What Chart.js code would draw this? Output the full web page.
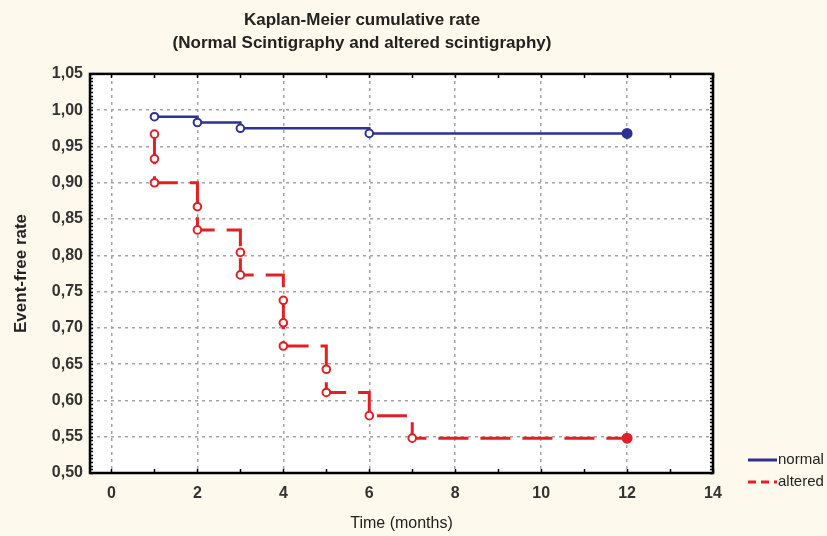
<!DOCTYPE html>
<html><head><meta charset="utf-8">
<script src="https://cdn.jsdelivr.net/npm/chart.js@4.4.1/dist/chart.umd.min.js"></script>
<style>html,body{margin:0;padding:0;background:#fdf9ed;}#wrap{width:827px;height:536px;position:relative;}</style>
</head><body><div id="wrap"><canvas id="c" width="827" height="536"></canvas></div>
<script>
const chartTitle = ['Kaplan-Meier cumulative rate', '(Normal Scintigraphy and altered scintigraphy)'];
const xAxisTitle = 'Time (months)';
const yAxisTitle = 'Event-free rate';
const seriesNames = ['normal', 'altered'];
const normalTimes = [1, 2, 3, 6, 12];
const normalRates = [0.991, 0.983, 0.975, 0.968, 0.968];
const alteredTimes = [1, 1, 1, 2, 2, 3, 3, 4, 4, 4, 5, 5, 6, 7, 12];
const alteredRates = [0.967, 0.933, 0.900, 0.867, 0.835, 0.804, 0.773, 0.738, 0.707, 0.675, 0.643, 0.611, 0.579, 0.548, 0.548];
const xTickValues = [0, 2, 4, 6, 8, 10, 12, 14];
const yTickValues = [0.50, 0.55, 0.60, 0.65, 0.70, 0.75, 0.80, 0.85, 0.90, 0.95, 1.00, 1.05];
const xRange = [-0.5, 14];
const yRange = [0.50, 1.05];

const BG = '#fdf9ed';
const BLUE = '#2e3192';
const RED = '#e31e24';

function toPoints(xs, ys) { return xs.map((x, i) => ({x: x, y: ys[i]})); }

const bgPlugin = {
  id: 'bg',
  beforeDraw(chart) {
    const {ctx, chartArea: a} = chart;
    ctx.save();
    ctx.fillStyle = BG;
    ctx.fillRect(0, 0, chart.width, chart.height);
    ctx.fillStyle = '#ffffff';
    ctx.fillRect(a.left, a.top, a.right - a.left, a.bottom - a.top);
    ctx.restore();
  }
};

const framePlugin = {
  id: 'frame',
  afterDraw(chart) {
    const {ctx, chartArea: a} = chart;
    const xs = chart.scales.x, ys = chart.scales.y;
    ctx.save();
    ctx.strokeStyle = '#000';
    ctx.lineWidth = 1.5;
    ctx.beginPath();
    for (let v = 0; v <= 14; v++) {
      const px = Math.round(xs.getPixelForValue(v)) + 0.5;
      ctx.moveTo(px, a.bottom); ctx.lineTo(px, a.bottom - 4);
      ctx.moveTo(px, a.top); ctx.lineTo(px, a.top + 4);
    }
    for (let k = 0; k <= 110; k++) {
      const v = yRange[0] + k * 0.005;
      const py = Math.round(ys.getPixelForValue(v)) + 0.5;
      ctx.moveTo(a.left, py); ctx.lineTo(a.left + 3, py);
      ctx.moveTo(a.right, py); ctx.lineTo(a.right - 3, py);
    }
    ctx.stroke();
    ctx.lineWidth = 2.5;
    ctx.strokeRect(a.left, a.top, a.right - a.left, a.bottom - a.top);
    ctx.restore();
  }
};

const legendPlugin = {
  id: 'sideLegend',
  afterDraw(chart) {
    const {ctx, chartArea: a} = chart;
    ctx.save();
    ctx.font = '15px "Liberation Sans", Arial, sans-serif';
    ctx.textBaseline = 'middle';
    ctx.textAlign = 'left';
    chart.data.datasets.forEach((ds, i) => {
      const y = a.bottom - 13 + i * 22;
      const x0 = a.right + 35;
      ctx.strokeStyle = ds.borderColor;
      ctx.lineWidth = 3;
      ctx.setLineDash(i === 1 ? [8, 5] : []);
      ctx.beginPath(); ctx.moveTo(x0, y); ctx.lineTo(x0 + 29, y); ctx.stroke();
      ctx.setLineDash([]);
      ctx.fillStyle = '#222';
      ctx.fillText(ds.label, x0 + 30, y);
    });
    ctx.restore();
  }
};

function isLast(c) { return c.dataIndex === c.dataset.data.length - 1; }

new Chart(document.getElementById('c'), {
  type: 'line',
  data: {
    datasets: [
      {
        label: seriesNames[0],
        data: toPoints(normalTimes, normalRates),
        borderColor: BLUE,
        borderWidth: 2.5,
        stepped: 'before',
        fill: false,
        pointRadius: c => isLast(c) ? 4.5 : 3.8,
        pointBorderWidth: 2,
        pointBorderColor: BLUE,
        pointBackgroundColor: c => isLast(c) ? BLUE : '#ffffff'
      },
      {
        label: seriesNames[1],
        data: toPoints(alteredTimes, alteredRates),
        borderColor: RED,
        borderWidth: 3,
        borderDash: [30, 12],
        stepped: 'before',
        fill: false,
        pointRadius: c => isLast(c) ? 4.5 : 3.8,
        pointBorderWidth: 2,
        pointBorderColor: RED,
        pointBackgroundColor: c => isLast(c) ? RED : '#ffffff'
      }
    ]
  },
  options: {
    responsive: false,
    animation: false,
    devicePixelRatio: 1,
    layout: {padding: {left: 11, right: 114, top: 0, bottom: 0}},
    plugins: {
      legend: {display: false},
      tooltip: {enabled: false},
      title: {
        display: true,
        text: chartTitle,
        color: '#222',
        font: {family: '"Liberation Sans", Arial, sans-serif', size: 17, weight: 'bold', lineHeight: 1.35},
        padding: {top: 8.5, bottom: 19.5}
      }
    },
    scales: {
      x: {
        type: 'linear',
        min: xRange[0],
        max: xRange[1],
        afterBuildTicks: s => { s.ticks = xTickValues.map(v => ({value: v})); },
        afterFit: s => { s.height = 63; },
        ticks: {
          color: '#333',
          font: {family: '"Liberation Sans", Arial, sans-serif', size: 16, weight: 'bold'},
          padding: 11,
          maxRotation: 0,
          callback: v => String(v)
        },
        grid: {color: '#a4a4a4', lineWidth: 1.5, drawTicks: false},
        border: {display: false, dash: [3, 4]},
        title: {
          display: true,
          text: xAxisTitle,
          color: '#222',
          font: {family: '"Liberation Sans", Arial, sans-serif', size: 16},
          padding: {top: 0, bottom: 2.5}
        }
      },
      y: {
        type: 'linear',
        min: yRange[0],
        max: yRange[1],
        afterBuildTicks: s => { s.ticks = yTickValues.map(v => ({value: v})); },
        afterFit: s => { s.width = 79; },
        ticks: {
          color: '#333',
          font: {family: '"Liberation Sans", Arial, sans-serif', size: 16, weight: 'bold'},
          padding: 7,
          callback: v => Number(v).toFixed(2).replace('.', ',')
        },
        grid: {color: '#a4a4a4', lineWidth: 1.5, drawTicks: false},
        border: {display: false, dash: [3, 4]},
        title: {
          display: true,
          text: yAxisTitle,
          color: '#222',
          font: {family: '"Liberation Sans", Arial, sans-serif', size: 17, weight: 'bold'},
          padding: {top: 0, bottom: 0}
        }
      }
    }
  },
  plugins: [bgPlugin, framePlugin, legendPlugin]
});
</script>
</body></html>
